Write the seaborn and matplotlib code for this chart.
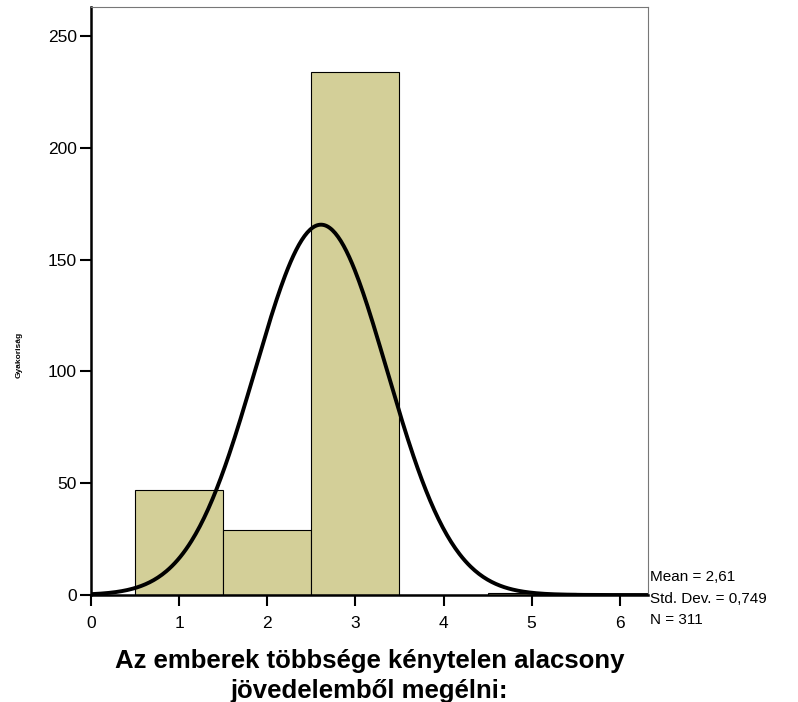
import numpy as np
import pandas as pd
import matplotlib
matplotlib.use("Agg")
import matplotlib.pyplot as plt
import seaborn as sns

# Adatok (hisztogram oszlopai)
kategoriak = [1, 2, 3, 4, 5]
gyakorisag = [47, 29, 234, 0, 1]
atlag = 2.61
szoras = 0.749
n_ossz = 311

sns.set_theme(style="white")
plt.rcParams['font.family'] = ['Liberation Sans', 'DejaVu Sans']
plt.rcParams['text.color'] = 'black'

df = pd.DataFrame({'ertek': kategoriak, 'db': gyakorisag})

fig = plt.figure(figsize=(7.98, 7.02), dpi=100)
ax = fig.add_axes([0.114, 0.1524, 0.698, 0.8376])

sns.histplot(data=df, x='ertek', weights='db', binwidth=1, binrange=(0.5, 5.5),
             color='#d3cf98', alpha=1, edgecolor='black', linewidth=0.8, ax=ax)

# Normál görbe
xg = np.linspace(0, 6.32, 400)
yg = n_ossz * np.exp(-0.5 * ((xg - atlag) / szoras) ** 2) / (szoras * np.sqrt(2 * np.pi))
sns.lineplot(x=xg, y=yg, color='black', linewidth=2.8, ax=ax)

ax.set_xlim(0, 6.32)
ax.set_ylim(0, 263)
ax.set_xticks(range(0, 7))
ax.set_yticks([0, 50, 100, 150, 200, 250])
ax.tick_params(axis='both', direction='out', length=8, width=1.5, labelsize=12.5,
               bottom=True, left=True, colors='black', pad=2)
ax.tick_params(axis='x', pad=7)

for s in ['left', 'bottom']:
    ax.spines[s].set_color('black')
    ax.spines[s].set_linewidth(1.8)
for s in ['top', 'right']:
    ax.spines[s].set_color('#777777')
    ax.spines[s].set_linewidth(0.8)

ax.set_xlabel('Az emberek többsége kénytelen alacsony\njövedelemből megélni:',
              fontsize=18.5, fontweight='bold', labelpad=13, linespacing=1.3,
              color='black')
ax.set_ylabel('')
fig.text(0.024, 0.494, 'Gyakoriság', rotation=90, fontsize=6, fontweight='bold',
         ha='center', va='center')

fig.text(0.815, 0.188, 'Mean = 2,61\nStd. Dev. = 0,749\nN = 311',
         fontsize=11, ha='left', va='top', linespacing=1.7)

fig.savefig('out.png', dpi=100)
